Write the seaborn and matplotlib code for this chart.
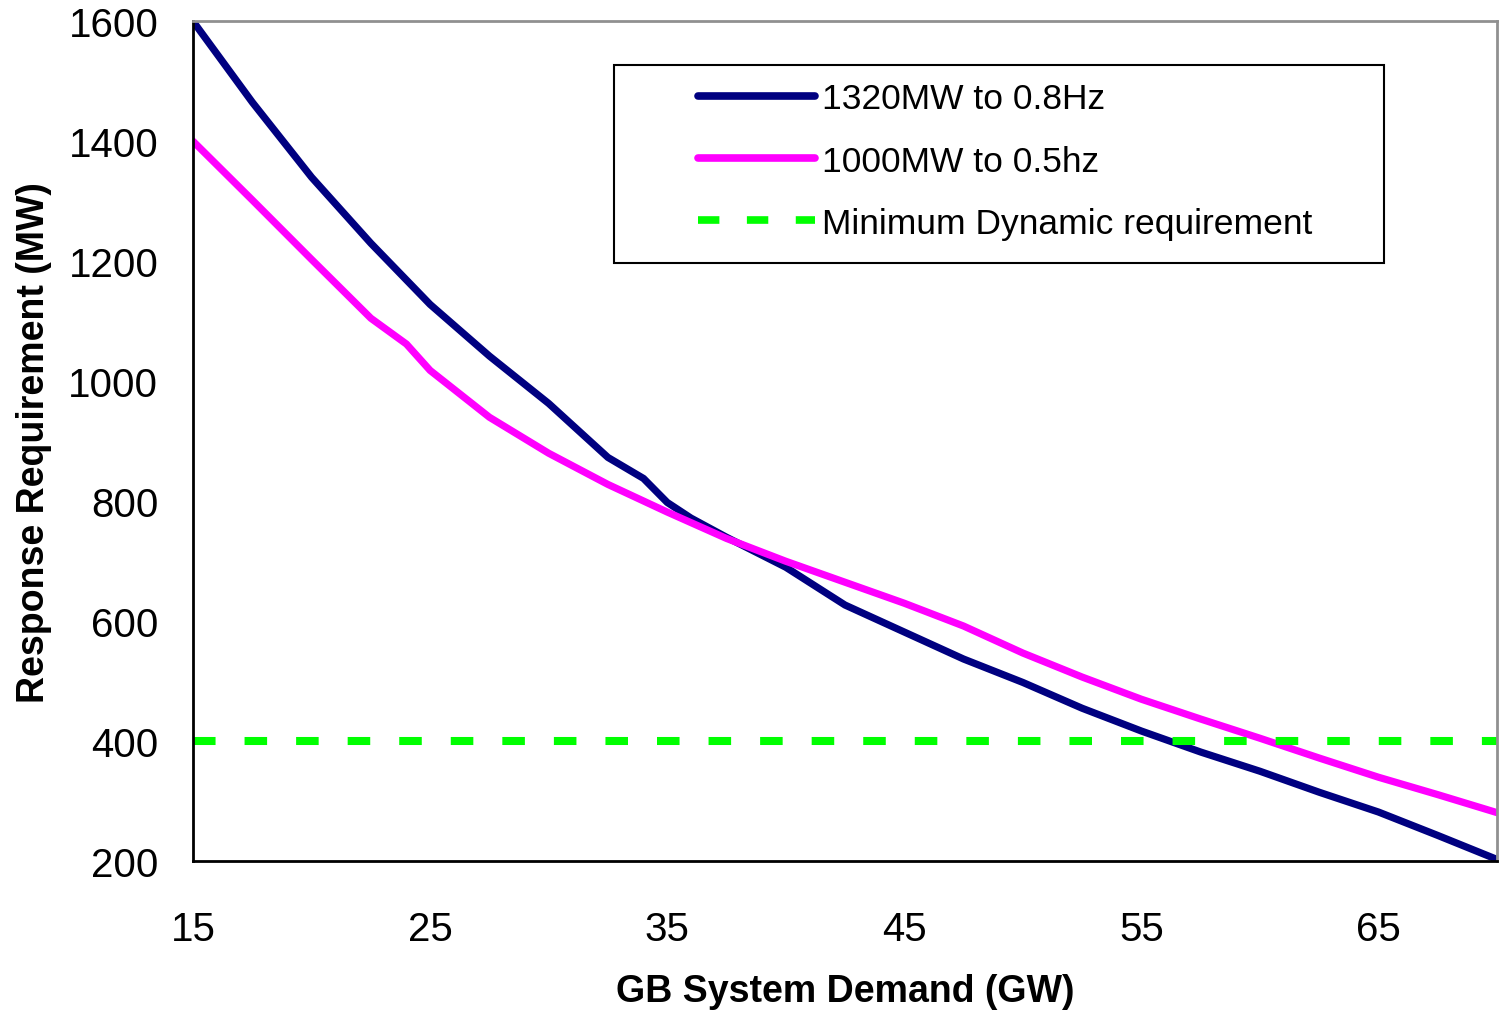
import matplotlib
matplotlib.use("Agg")
import matplotlib.pyplot as plt
import seaborn as sns
import pandas as pd
from matplotlib.patches import Rectangle

# GB system demand (GW) and response requirement (MW)
demand_1320 = [15, 17.5, 20, 22.5, 25, 27.5, 30, 32.5, 34, 35, 36, 37.5, 40,
               42.5, 45, 47.5, 50, 52.5, 55, 57.5, 60, 62.5, 65, 67.5, 70]
resp_1320 = [1600, 1465, 1340, 1230, 1128, 1042, 963, 873, 838, 798, 772, 740, 690,
             627, 582, 537, 498, 455, 417, 382, 350, 315, 282, 243, 203]

demand_1000 = [15, 17.5, 20, 22.5, 24, 25, 27.5, 30, 32.5, 35, 37.5, 40,
               42.5, 45, 47.5, 50, 52.5, 55, 57.5, 60, 62.5, 65, 67.5, 70]
resp_1000 = [1400, 1302, 1203, 1105, 1062, 1018, 940, 880, 828, 782, 738, 700,
             665, 630, 592, 547, 507, 470, 437, 405, 372, 340, 311, 281]

demand_min = [15, 70]
resp_min = [400, 400]

labels = ["1320MW to 0.8Hz", "1000MW to 0.5hz", "Minimum Dynamic requirement"]

sns.set_style("white")
plt.rcParams["font.family"] = ["Liberation Sans", "DejaVu Sans"]
plt.rcParams["text.color"] = "black"
plt.rcParams["axes.labelcolor"] = "black"
plt.rcParams["xtick.color"] = "black"
plt.rcParams["ytick.color"] = "black"

fig = plt.figure(figsize=(15, 10.12), dpi=100)
ax = fig.add_axes([0.1287, 0.148, 0.8693, 0.830])

df1 = pd.DataFrame({"x": demand_1320, "y": resp_1320})
df2 = pd.DataFrame({"x": demand_1000, "y": resp_1000})
df3 = pd.DataFrame({"x": demand_min, "y": resp_min})

sns.lineplot(data=df1, x="x", y="y", ax=ax, color="#000080", linewidth=5.2,
             label=labels[0], sort=False, solid_capstyle="round")
sns.lineplot(data=df2, x="x", y="y", ax=ax, color="#FF00FF", linewidth=5.2,
             label=labels[1], sort=False, solid_capstyle="round")
sns.lineplot(data=df3, x="x", y="y", ax=ax, color="#00FF00", linewidth=5.8,
             label=labels[2], sort=False)
ax.lines[2].set_dashes([2.8, 3.6])
ax.lines[2].set_dash_capstyle("butt")

ax.set_xlim(15, 70)
ax.set_ylim(200, 1600)
ax.set_xticks([15, 25, 35, 45, 55, 65])
ax.set_yticks(range(200, 1601, 200))

ax.tick_params(axis="both", direction="out", length=11, width=1.5,
               labelsize=29, color="black", labelcolor="black")
ax.tick_params(axis="x", pad=24)
ax.tick_params(axis="y", pad=14)

ax.set_xlabel("GB System Demand (GW)", fontsize=27, fontweight="bold",
              labelpad=18, color="black")
ax.set_ylabel("Response Requirement (MW)", fontsize=27, fontweight="bold",
              labelpad=12, color="black")

for side in ["left", "bottom"]:
    ax.spines[side].set_color("black")
    ax.spines[side].set_linewidth(2)
for side in ["top", "right"]:
    ax.spines[side].set_color("#909090")
    ax.spines[side].set_linewidth(2)

# legend without frame, frame drawn separately to get the wide left padding
leg = ax.legend(loc="upper left", bbox_to_anchor=(0.4535, 0.935),
                bbox_transform=fig.transFigure, frameon=False, fontsize=25.5,
                handlelength=3.3, handletextpad=0.2, labelspacing=0.82,
                borderpad=0)
for t in leg.get_texts():
    t.set_color("black")
for h in leg.get_lines():
    h.set_linewidth(5.5)
fig.patches.append(Rectangle((0.4093, 0.7391), 0.5134, 0.1957,
                             transform=fig.transFigure, fill=False,
                             edgecolor="black", linewidth=1.5))

plt.savefig("out.png", dpi=100)
